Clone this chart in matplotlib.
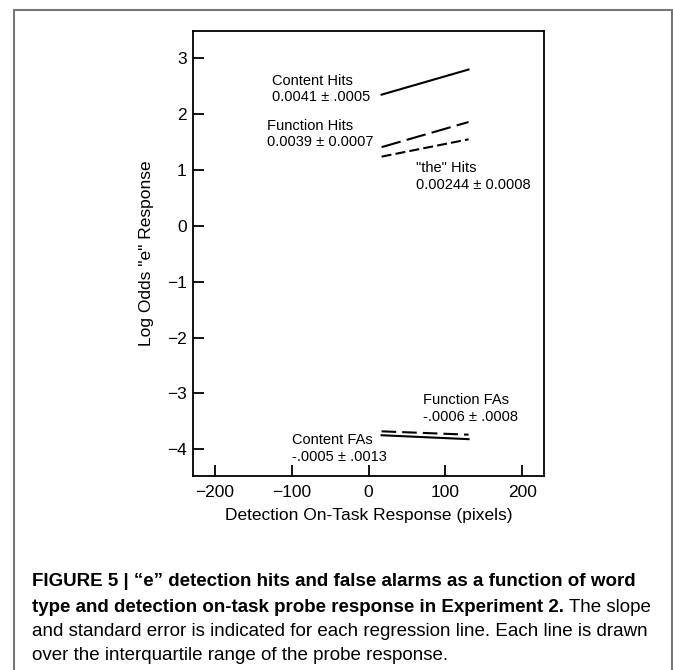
import matplotlib
matplotlib.use("Agg")
import matplotlib.pyplot as plt
from matplotlib import font_manager
from matplotlib.patches import Rectangle

# regression lines drawn over the interquartile range of the probe response
x_range = [17, 130]
content_hits = [2.35, 2.80]
function_hits = [1.41, 1.86]
the_hits = [1.24, 1.55]
function_fas = [-3.68, -3.74]
content_fas = [-3.75, -3.82]

labels = ["Content Hits\n0.0041 \u00b1 .0005",
          "Function Hits\n0.0039 \u00b1 0.0007",
          "\"the\" Hits\n0.00244 \u00b1 0.0008",
          "Function FAs\n-.0006 \u00b1 .0008",
          "Content FAs\n-.0005 \u00b1 .0013"]
label_x = [-126, -132, 62, 71, -99]
label_y = [2.45, 1.645, 0.89, -3.265, -3.99]

xticks = [-200, -100, 0, 100, 200]
yticks = [-4, -3, -2, -1, 0, 1, 2, 3]

names = {f.name for f in font_manager.fontManager.ttflist}
narrow = "Liberation Sans Narrow" if "Liberation Sans Narrow" in names else "Liberation Sans"
plt.rcParams['font.family'] = ['Liberation Sans', 'DejaVu Sans']

fig = plt.figure(figsize=(6.73, 6.70), dpi=100)
ax = fig.add_axes([193 / 673, 1 - 476 / 670, (544 - 193) / 673, (476 - 31) / 670])

ax.plot(x_range, content_hits, color='black', lw=1.5)
ax.plot(x_range, function_hits, color='black', lw=1.5, dashes=(9.5, 3))
ax.plot(x_range, the_hits, color='black', lw=1.5, dashes=(4.8, 2))
ax.plot(x_range, function_fas, color='black', lw=1.5, dashes=(7, 2.9))
ax.plot(x_range, content_fas, color='black', lw=1.5)

for txt, tx, ty in zip(labels, label_x, label_y):
    ax.text(tx, ty, txt, fontsize=10.5, ha='left', va='center', linespacing=1.25)

ax.set_xlim(-228, 228)
ax.set_ylim(-4.48, 3.49)
ax.set_xticks(xticks)
ax.set_yticks(yticks)
ax.set_xticklabels([str(v).replace('-', '\u2212') for v in xticks])
ax.set_yticklabels([str(v).replace('-', '\u2212') for v in yticks])
ax.tick_params(direction='in', length=8, width=1.3, labelsize=12.5)
ax.tick_params(axis='x', pad=6.5)
ax.tick_params(axis='y', pad=4.5)
for s in ax.spines.values():
    s.set_linewidth(1.3)

ax.set_xlabel("Detection On-Task Response (pixels)", fontsize=12.5, labelpad=6)
ax.set_ylabel("Log Odds \"e\" Response", fontsize=12.5, labelpad=9)

# outer frame of the figure panel
fig.patches.append(Rectangle((14 / 673, -0.05), (672 - 14) / 673, 1.05 - 10 / 670,
                             transform=fig.transFigure, fill=False,
                             edgecolor='#777777', lw=1.5))

# caption, bold lead followed by regular text
x0 = 32 / 673
fs = 13.5
fig.text(x0, 1 - 582 / 670,
         "FIGURE 5 | \u201ce\u201d detection hits and false alarms as a function of word",
         family=narrow, fontsize=fs, weight='bold', va='center')
cap2 = fig.text(x0, 1 - 607 / 670,
                "type and detection on-task probe response in Experiment 2.",
                family=narrow, fontsize=fs, weight='bold', va='center')
ax.annotate(" The slope", xy=(1, 0), xycoords=cap2, va='bottom', ha='left',
            family=narrow, fontsize=fs, annotation_clip=False)
fig.text(x0, 1 - 632 / 670,
         "and standard error is indicated for each regression line. Each line is drawn",
         family=narrow, fontsize=fs, va='center')
fig.text(x0, 1 - 656 / 670,
         "over the interquartile range of the probe response.",
         family=narrow, fontsize=fs, va='center')

fig.savefig("out.png", dpi=100)
